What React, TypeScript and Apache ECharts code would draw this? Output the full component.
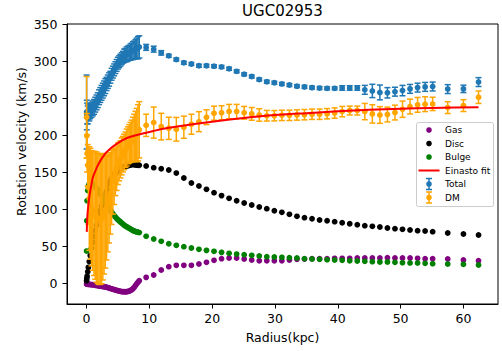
import React, { useEffect, useRef } from "react";
import * as echarts from "echarts";

const radius = [
  0.02, 0.05, 0.1, 0.2, 0.3, 0.45, 0.6, 0.8,
  1.0, 1.2, 1.4, 1.6, 1.8, 2.0, 2.2, 2.4, 2.6, 2.8,
  3.0, 3.2, 3.4, 3.6, 3.8, 4.0, 4.2, 4.4, 4.6, 4.8,
  5.0, 5.2, 5.4, 5.6, 5.8, 6.0, 6.2, 6.4, 6.6, 6.8,
  7.0, 7.2, 7.4, 7.6, 7.8, 8.0, 8.2, 8.4,
  9.5, 10.7, 11.9, 13.1, 14.3, 15.5, 16.7, 17.9, 19.1, 20.3,
  21.5, 22.7, 23.9, 25.1, 26.3, 27.5, 28.7, 29.9, 31.1, 32.3,
  33.5, 34.7, 35.9, 37.1, 38.3, 39.5, 40.7, 41.9, 43.1, 44.3,
  45.5, 46.7, 47.9, 49.1, 50.3, 51.5, 52.7, 53.9, 55.1, 57.5,
  60.0, 62.4,
];

const gas = [
  -0.5, -0.6, -0.7, -0.8, -0.9, -1.0, -1.1, -1.3,
  -1.5, -1.8, -2.1, -2.4, -2.7, -3.0, -3.3, -3.6, -3.9, -4.2,
  -4.5, -4.9, -5.3, -5.8, -6.4, -7.0, -7.5, -8.0, -8.5, -9.0,
  -9.5, -10.0, -10.4, -10.7, -10.9, -11.0, -11.0, -10.9, -10.5, -10.0,
  -9.2, -8.2, -7.0, -5.0, -2.5, 0.0, 2.0, 4.0,
  8.5, 11.7, 18.5, 23.0, 24.8, 24.8, 24.8, 26.6, 28.8, 31.5,
  33.8, 34.7, 34.7, 33.3, 32.0, 31.0, 31.0, 31.0, 31.0, 32.0,
  32.9, 33.3, 33.8, 33.8, 33.8, 34.2, 34.2, 34.2, 34.7, 34.7,
  34.7, 34.7, 35.1, 34.7, 34.7, 34.7, 34.2, 33.8, 33.8, 33.3,
  32.0, 31.0,
];

const disc = [
  4, 7, 10, 16, 22, 30, 38, 48,
  56, 64, 72, 79, 86, 93, 99, 105, 110, 115,
  120, 125, 130, 135, 139, 142, 145, 147, 149, 151,
  152.5, 154, 155, 156, 157, 158, 158.5, 159, 159.5, 160,
  160.5, 161, 161, 161, 160.5, 160.5, 160, 160,
  159, 156.8, 155.4, 153.6, 149.5, 142.8, 136, 132, 127.5, 123,
  119, 115.3, 112, 109, 106.3, 103.6, 101.4, 98.6, 96.4, 93.7,
  91, 89.2, 87.8, 86, 85, 83.8, 82.4, 81, 79.7, 78.4,
  77.5, 76.6, 75.2, 74.3, 73.4, 72.5, 71.6, 71.2, 70.3, 68.5,
  67.1, 65.8,
];

const bulge = [
  44, 85, 112, 126, 132, 135, 136, 136,
  135, 133, 131, 129, 127, 125, 122, 119, 116, 113,
  110, 108, 106, 103, 100, 97, 94.5, 92, 90, 88,
  86.5, 85, 83.5, 82, 80.5, 79, 78, 77, 76, 75,
  74, 73, 72, 71, 70.5, 70, 69.5, 69,
  64, 60.4, 57.2, 54, 51.8, 50, 48.2, 46.4, 45, 43.7,
  42.3, 41, 40, 39.2, 38.3, 37.4, 36.5, 36, 35.6, 35.1,
  34.7, 33.8, 33.3, 32.9, 32.4, 32, 31.5, 31, 30.6, 30.2,
  29.7, 29.3, 29.3, 28.8, 28.4, 28, 28, 27.5, 27, 26.6,
  26.1, 25.2,
];

const total = [
  232, 228, 230, 228, 232, 230, 233, 235,
  237, 239, 242, 245, 248, 252, 255, 258, 261, 264,
  267, 270, 273, 276, 279, 283, 286, 289, 292, 295,
  298, 300, 302, 304, 306, 308, 309, 310, 311, 312,
  313, 314, 315, 316, 317, 318, 319, 320,
  319.4, 317, 312, 308, 303, 298.6, 297, 294.6, 294.6, 294,
  293, 290.5, 287, 283, 280, 276, 273, 271.6, 270, 268.5,
  267, 266, 265, 264.4, 264, 264, 264.5, 264.5, 264.5, 262,
  260.5, 258.5, 258, 259.5, 261, 263.3, 265, 266, 266.5, 263,
  263.3, 272.5,
];

const totalErr = [
  50, 20, 14, 12, 10, 10, 10, 10,
  10, 10, 10, 10, 10, 10, 10, 10, 10, 10,
  10, 9, 9, 9, 8, 8, 8, 8, 8, 8,
  8, 8, 8, 8, 8, 9, 9, 10, 10, 10,
  11, 11, 12, 12, 13, 14, 15, 15,
  4, 4, 3, 2, 2, 2, 2, 2, 2, 2,
  2, 2, 2, 2, 2, 2, 2, 2, 2, 2,
  2, 2, 2, 2, 2, 2, 3, 3, 3, 6,
  9, 10, 7, 6, 7, 6, 6, 6, 6, 6,
  5, 6,
];

const dm = [
  225, 200, 176, 160, 130, 115, 108, 102,
  98, 95, 92, 90, 88, 87, 87, 88, 90, 93,
  97, 102, 108, 115, 122, 130, 138, 145, 151, 156,
  162, 165, 168, 172, 175, 178, 181, 184, 187, 189,
  191, 193, 195, 197, 199, 201, 204, 208,
  214, 217.7, 212.3, 210, 208.7, 211.5, 215.5, 219, 225, 230.4,
  231, 232.6, 232.6, 231, 229.5, 228, 227, 227, 227.5, 227.5,
  228, 228.4, 229, 229, 229.7, 230.6, 232.6, 234, 234, 232.6,
  229.5, 228, 228.6, 231.3, 235.8, 239.4, 241.7, 242.6, 243, 238,
  240.7, 252,
];

const dmErr = [
  55, 30, 25, 28, 50, 70, 75, 78,
  80, 84, 86, 88, 88, 88, 88, 88, 85, 80,
  76, 70, 65, 60, 55, 50, 44, 38, 32, 30,
  28, 26, 25, 25, 24, 24, 24, 25, 25, 26,
  27, 28, 30, 32, 34, 36, 38, 38,
  15, 21, 18, 15, 16, 15, 13.5, 13.5, 10, 9.5,
  9.5, 9.7, 9.7, 8.6, 8.6, 8.4, 7.2, 7, 7, 7,
  7, 7, 7, 7, 7, 7, 7, 6, 6, 11,
  12.4, 11.3, 10, 10, 11, 10, 10, 10, 9, 8,
  8, 8.4,
];

const fitRadius = [0.05, 0.1, 0.2, 0.35, 0.5, 0.75, 1, 1.5, 2, 2.5, 3, 4, 5, 6, 7, 8, 10, 12, 15, 20, 25, 30, 35, 40, 45, 50, 55, 62.4];
const fitVel = [70, 84, 98, 110, 120, 132, 143, 154, 163, 170, 176, 184, 190, 195, 198.5, 201, 205, 209, 213, 219, 224, 228, 230.5, 233, 235, 236.5, 237.5, 238.5];

const xTicks = [0, 10, 20, 30, 40, 50, 60];
const yTicks = [0, 50, 100, 150, 200, 250, 300, 350];

const FONT = "DejaVu Sans";
const C_GAS = "#800080";
const C_DISC = "#000000";
const C_BULGE = "#008000";
const C_FIT = "#ff0000";
const C_TOTAL = "#1f77b4";
const C_DM = "#ffa500";

function errRender(color: string) {
  return (params: any, api: any) => {
    const x = api.value(0);
    const y = api.value(1);
    const e = api.value(2);
    const top = api.coord([x, y + e]);
    const bot = api.coord([x, y - e]);
    const cap = 3;
    const style = { stroke: color, lineWidth: 1.5 };
    return {
      type: "group",
      children: [
        { type: "line", shape: { x1: top[0], y1: top[1], x2: bot[0], y2: bot[1] }, style },
        { type: "line", shape: { x1: top[0] - cap, y1: top[1], x2: top[0] + cap, y2: top[1] }, style },
        { type: "line", shape: { x1: bot[0] - cap, y1: bot[1], x2: bot[0] + cap, y2: bot[1] }, style },
      ],
    };
  };
}

function legendGraphics() {
  const x0 = 429;
  const tx = 445;
  const rows = [130, 143.5, 157, 170.5, 184, 197.5];
  const els: any[] = [
    {
      type: "rect",
      shape: { x: 416.5, y: 122.5, width: 77, height: 84, r: 2 },
      style: { fill: "rgba(255,255,255,0.8)", stroke: "#cccccc", lineWidth: 1 },
      z: 100,
    },
  ];
  const labels = ["Gas", "Disc", "Bulge", "Einasto fit", "Total", "DM"];
  const dotColors = [C_GAS, C_DISC, C_BULGE];
  dotColors.forEach((c, i) => {
    els.push({ type: "circle", shape: { cx: x0, cy: rows[i], r: 2.8 }, style: { fill: c }, z: 101 });
  });
  els.push({
    type: "line",
    shape: { x1: 418.5, y1: rows[3], x2: 439.5, y2: rows[3] },
    style: { stroke: C_FIT, lineWidth: 2 },
    z: 101,
  });
  [C_TOTAL, C_DM].forEach((c, k) => {
    const y = rows[4 + k];
    const st = { stroke: c, lineWidth: 1.5 };
    els.push({ type: "line", shape: { x1: x0, y1: y - 5.5, x2: x0, y2: y + 5.5 }, style: st, z: 101 });
    els.push({ type: "line", shape: { x1: x0 - 3, y1: y - 5.5, x2: x0 + 3, y2: y - 5.5 }, style: st, z: 101 });
    els.push({ type: "line", shape: { x1: x0 - 3, y1: y + 5.5, x2: x0 + 3, y2: y + 5.5 }, style: st, z: 101 });
    els.push({ type: "circle", shape: { cx: x0, cy: y, r: 2.8 }, style: { fill: c }, z: 102 });
  });
  labels.forEach((t, i) => {
    els.push({
      type: "text",
      x: tx,
      y: rows[i],
      style: { text: t, fontFamily: FONT, fontSize: 9, fill: "#000", textAlign: "left", textVerticalAlign: "middle" },
      z: 102,
    });
  });
  return els;
}

export default function App() {
  const ref = useRef<HTMLDivElement>(null);
  useEffect(() => {
    if (!ref.current) return;
    const chart = echarts.init(ref.current, null, { renderer: "svg" });
    const pts = (arr: number[]) => radius.map((r, i) => [r, arr[i]]);
    const errs = (arr: number[], err: number[]) => radius.map((r, i) => [r, arr[i], err[i]]);
    const scatter = (name: string, arr: number[], color: string, z: number) => ({
      name,
      type: "scatter",
      data: pts(arr),
      symbol: "circle",
      symbolSize: 5.8,
      itemStyle: { color, opacity: 1 },
      silent: true,
      z,
    });
    const option: any = {
      animation: false,
      backgroundColor: "#ffffff",
      grid: { left: 67, top: 24, width: 431, height: 280, show: true, borderColor: "#000", borderWidth: 1, backgroundColor: "transparent" },
      xAxis: {
        type: "value",
        min: -3.1,
        max: 65.5,
        axisLine: { show: true, onZero: false, lineStyle: { color: "#000", width: 1 } },
        axisTick: { show: true, length: 4.5, lineStyle: { color: "#000", width: 1 }, customValues: xTicks },
        axisLabel: { customValues: xTicks, margin: 8, fontFamily: FONT, fontSize: 12.5, color: "#000" },
        splitLine: { show: false },
      },
      yAxis: {
        type: "value",
        min: -27.5,
        max: 351,
        axisLine: { show: true, onZero: false, lineStyle: { color: "#000", width: 1 } },
        axisTick: { show: true, length: 4.5, lineStyle: { color: "#000", width: 1 }, customValues: yTicks },
        axisLabel: { customValues: yTicks, margin: 9.5, fontFamily: FONT, fontSize: 12.5, color: "#000" },
        splitLine: { show: false },
      },
      series: [
        scatter("Gas", gas, C_GAS, 2),
        scatter("Disc", disc, C_DISC, 2),
        scatter("Bulge", bulge, C_BULGE, 2),
        {
          name: "Total err",
          type: "custom",
          data: errs(total, totalErr),
          dimensions: ["x", "y", "e"],
          encode: { x: 0, y: 1 },
          renderItem: errRender(C_TOTAL),
          silent: true,
          z: 3,
        },
        scatter("Total", total, C_TOTAL, 4),
        {
          name: "DM err",
          type: "custom",
          data: errs(dm, dmErr),
          dimensions: ["x", "y", "e"],
          encode: { x: 0, y: 1 },
          renderItem: errRender(C_DM),
          silent: true,
          z: 5,
        },
        scatter("DM", dm, C_DM, 6),
        {
          name: "Einasto fit",
          type: "line",
          data: fitRadius.map((r, i) => [r, fitVel[i]]),
          showSymbol: false,
          symbol: "none",
          smooth: 0.2,
          lineStyle: { color: C_FIT, width: 2 },
          silent: true,
          z: 7,
        },
      ],
      graphic: [
        {
          type: "text",
          x: 282.5,
          y: 10.5,
          style: { text: "UGC02953", fontFamily: FONT, fontSize: 15, fill: "#000", textAlign: "center", textVerticalAlign: "middle" },
        },
        {
          type: "text",
          x: 282.5,
          y: 337,
          style: { text: "Radius(kpc)", fontFamily: FONT, fontSize: 12.5, fill: "#000", textAlign: "center", textVerticalAlign: "middle" },
        },
        {
          type: "text",
          x: 21,
          y: 141.5,
          rotation: Math.PI / 2,
          style: { text: "Rotation velocity (km/s)", fontFamily: FONT, fontSize: 12.5, fill: "#000", textAlign: "center", textVerticalAlign: "middle" },
        },
        ...legendGraphics(),
      ],
    };
    chart.setOption(option);
    return () => chart.dispose();
  }, []);
  return <div ref={ref} style={{ position: "fixed", left: 0, top: 0, width: 502, height: 351 }} />;
}
